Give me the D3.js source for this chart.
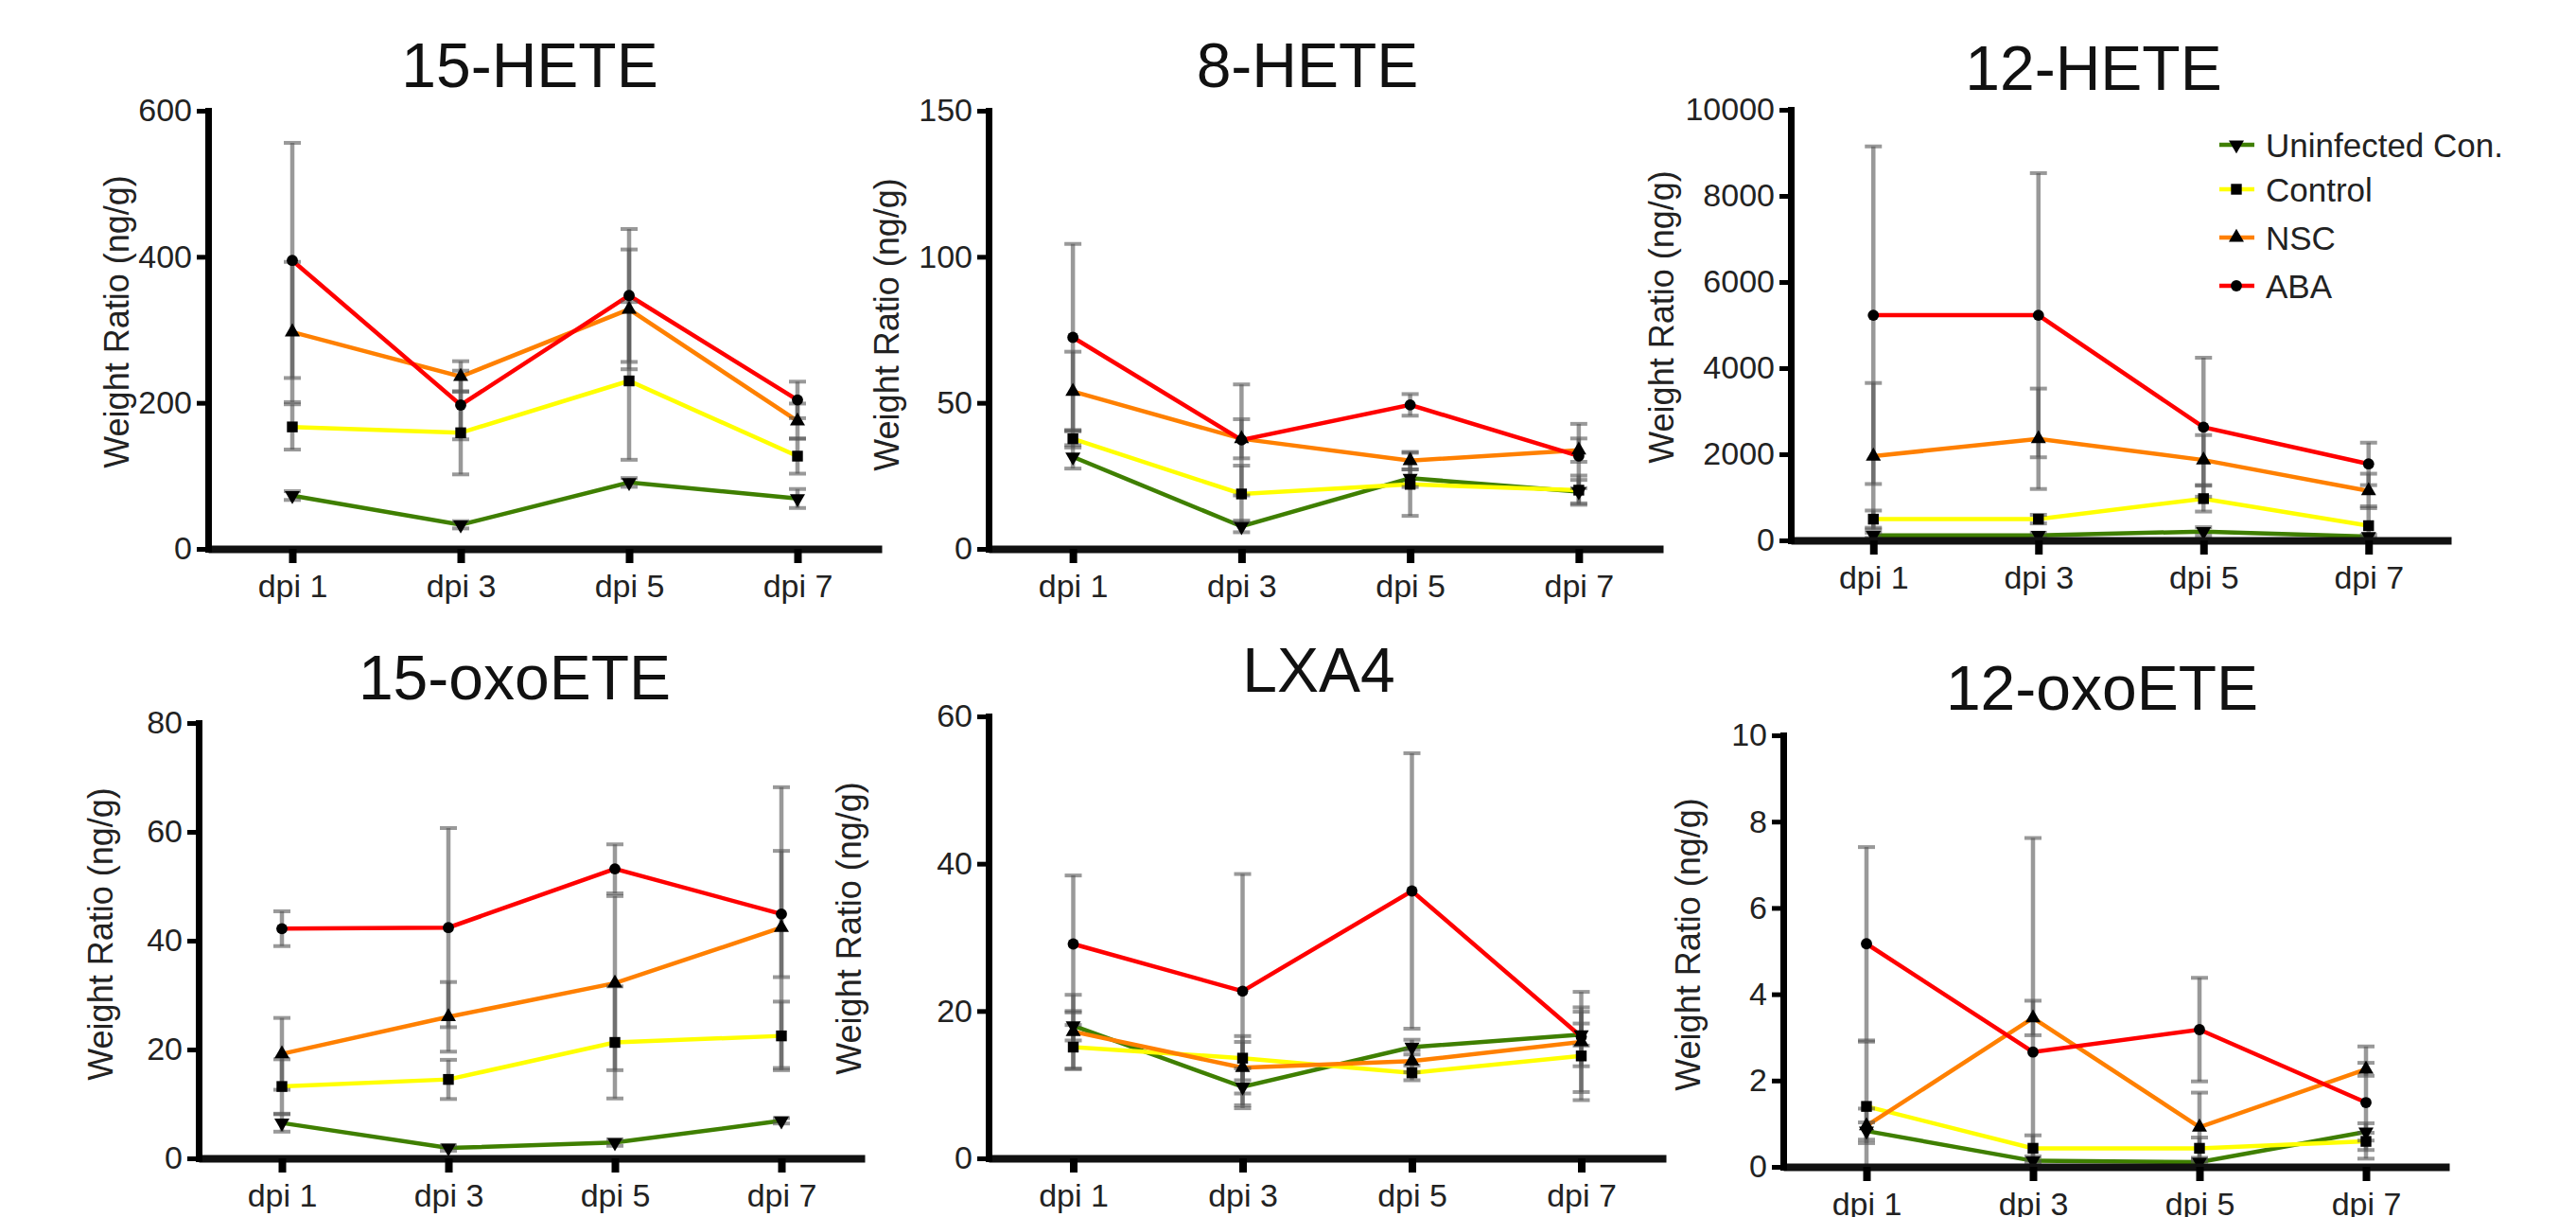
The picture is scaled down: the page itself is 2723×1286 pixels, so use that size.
<!DOCTYPE html>
<html>
<head>
<meta charset="utf-8">
<script src="https://cdn.jsdelivr.net/npm/d3@7"></script>
<style>
  body { margin: 0; background: #fff; }
  svg { display: block; font-family: "Liberation Sans", Arial, sans-serif; }
</style>
</head>
<body>
<svg id="chart"></svg>
<script>
const W = 2723, H = 1286;

const days = ["dpi 1", "dpi 3", "dpi 5", "dpi 7"];
const groups = ["Uninfected Con.", "Control", "NSC", "ABA"];
const groupColors = ["#3f7f00", "#ffff00", "#ff8000", "#ff0000"];

const panelTitles = ["15-HETE", "8-HETE", "12-HETE", "15-oxoETE", "LXA4", "12-oxoETE"];
const yMax = [600, 150, 10000, 80, 60, 10];
const yTicks = [
  [0, 200, 400, 600],
  [0, 50, 100, 150],
  [0, 2000, 4000, 6000, 8000, 10000],
  [0, 20, 40, 60, 80],
  [0, 20, 40, 60],
  [0, 2, 4, 6, 8, 10]
];

// means, one row per group (Uninfected, Control, NSC, ABA)
const hete15 = [[73, 33, 91, 69], [167, 159, 230, 127], [297, 236, 328, 175], [395, 197, 347, 204]];
const hete15Err = [[6, 5, 6, 13], [31, 57, 108, 24], [96, 21, 82, 24], [161, 47, 91, 25]];
const hete8 = [[31.5, 7.7, 24.2, 19.6], [37.7, 18.8, 22.1, 20.1], [53.9, 37.7, 30.2, 33.8], [72.4, 37.3, 49.3, 31.8]];
const hete8Err = [[4, 2, 3, 4], [3, 9.7, 10.8, 5], [13.6, 6.7, 3, 4], [32, 19, 3.7, 11]];
const hete12 = [[117, 117, 206, 90], [493, 493, 969, 341], [1955, 2359, 1865, 1148], [5229, 5229, 2628, 1776]];
const hete12Err = [[60, 60, 100, 40], [200, 100, 300, 450], [1700, 1166, 580, 400], [3920, 3300, 1614, 493]];
const oxo15 = [[6.5, 1.9, 2.9, 6.9], [13.2, 14.5, 21.3, 22.5], [19.2, 26.0, 32.2, 42.4], [42.2, 42.4, 53.2, 44.9]];
const oxo15Err = [[1.6, 0.5, 0.6, 0.5], [5, 3.6, 10.3, 6.3], [6.6, 6.4, 16, 25.8], [3.2, 18.3, 4.5, 11.6]];
const lxa4 = [[18.0, 9.7, 15.1, 16.8], [15.1, 13.6, 11.6, 13.9], [17.2, 12.3, 13.2, 15.8], [29.1, 22.7, 36.3, 16.5]];
const lxa4Err = [[2, 2.5, 1, 1.5], [3, 3, 1, 6], [5, 3.5, 1.5, 6.8], [9.3, 15.9, 18.7, 4]];
const oxo12 = [[0.83, 0.14, 0.11, 0.81], [1.40, 0.43, 0.43, 0.59], [0.95, 3.45, 0.92, 2.26], [5.17, 2.66, 3.18, 1.49]];
const oxo12Err = [[0.2, 0.1, 0.1, 0.2], [1.5, 0.3, 0.25, 0.2], [0.4, 0.4, 0.8, 0.15], [2.24, 4.96, 1.2, 1.3]];

const means = [hete15, hete8, hete12, oxo15, lxa4, oxo12];
const errs = [hete15Err, hete8Err, hete12Err, oxo15Err, lxa4Err, oxo12Err];

// panel geometry (pixels)
const layout = [
  {x0: 220, x1: 932, yt: 117, yb: 580, tx: 560, ty: 92, lx: 123, ly: 340},
  {x0: 1045, x1: 1758, yt: 117, yb: 580, tx: 1382, ty: 92, lx: 937, ly: 343},
  {x0: 1893, x1: 2591, yt: 116, yb: 571, tx: 2213, ty: 95, lx: 1756, ly: 335},
  {x0: 210, x1: 914, yt: 764, yb: 1224, tx: 544, ty: 739, lx: 106, ly: 987},
  {x0: 1045, x1: 1761, yt: 757, yb: 1224, tx: 1394, ty: 731, lx: 897, ly: 981},
  {x0: 1885, x1: 2589, yt: 777, yb: 1233, tx: 2222, ty: 750, lx: 1784, ly: 998}
];

const svg = d3.select("#chart").attr("width", W).attr("height", H);

const downTri = d3.symbol().type(d3.symbolTriangle).size(110);
const markers = [
  {path: downTri(), rot: 180},
  {path: d3.symbol().type(d3.symbolSquare).size(130)(), rot: 0},
  {path: d3.symbol().type(d3.symbolTriangle).size(110)(), rot: 0},
  {path: d3.symbol().type(d3.symbolCircle).size(110)(), rot: 0}
];

panelTitles.forEach((title, i) => {
  const L = layout[i];
  const g = svg.append("g");

  const x = d3.scalePoint().domain(days).range([L.x0, L.x1]).padding(0.5);
  const y = d3.scaleLinear().domain([0, yMax[i]]).range([L.yb, L.yt]);

  // title
  g.append("text")
    .attr("x", L.tx).attr("y", L.ty)
    .attr("text-anchor", "middle")
    .attr("font-size", 66)
    .attr("fill", "#111")
    .text(title);

  // y label
  g.append("text")
    .attr("transform", `translate(${L.lx},${L.ly}) rotate(-90)`)
    .attr("text-anchor", "middle")
    .attr("dominant-baseline", "central")
    .attr("font-size", 36)
    .attr("fill", "#222")
    .text("Weight Ratio (ng/g)");

  // lines
  const line = d3.line().x((d, j) => x(days[j])).y(d => y(d));
  means[i].forEach((vals, s) => {
    g.append("path")
      .attr("d", line(vals))
      .attr("fill", "none")
      .attr("stroke", groupColors[s])
      .attr("stroke-width", 4.5);
  });

  // error bars
  means[i].forEach((vals, s) => {
    vals.forEach((m, j) => {
      const e = errs[i][s][j];
      const cx = x(days[j]);
      const top = y(m + e), bot = y(Math.max(0, m - e));
      const eb = g.append("g").attr("stroke", "#555").attr("stroke-opacity", 0.6);
      eb.append("line").attr("x1", cx).attr("x2", cx).attr("y1", top).attr("y2", bot).attr("stroke-width", 4.5);
      eb.append("line").attr("x1", cx - 9).attr("x2", cx + 9).attr("y1", top).attr("y2", top).attr("stroke-width", 4);
      if (m - e > 0) {
        eb.append("line").attr("x1", cx - 9).attr("x2", cx + 9).attr("y1", bot).attr("y2", bot).attr("stroke-width", 4);
      }
    });
  });

  // markers
  means[i].forEach((vals, s) => {
    vals.forEach((m, j) => {
      g.append("path")
        .attr("d", markers[s].path)
        .attr("transform", `translate(${x(days[j])},${y(m)}) rotate(${markers[s].rot})`)
        .attr("fill", "#000");
    });
  });

  // axes
  const xAxis = g.append("g")
    .attr("transform", `translate(0,${L.yb})`)
    .call(d3.axisBottom(x).tickSizeInner(15).tickSizeOuter(0).tickPadding(12));
  xAxis.select(".domain").attr("stroke", "#111").attr("stroke-width", 8);
  xAxis.selectAll(".tick line").attr("stroke", "#000").attr("stroke-width", 8);
  xAxis.selectAll(".tick text").attr("font-size", 34).attr("fill", "#222")
    .attr("font-family", "Liberation Sans, Arial, sans-serif");

  const yAxis = g.append("g")
    .attr("transform", `translate(${L.x0},0)`)
    .call(d3.axisLeft(y).tickValues(yTicks[i]).tickFormat(d3.format("d"))
      .tickSizeInner(12).tickSizeOuter(0).tickPadding(5));
  yAxis.select(".domain").attr("stroke", "#000").attr("stroke-width", 7)
    .attr("stroke-linecap", "square");
  yAxis.selectAll(".tick line").attr("stroke", "#000").attr("stroke-width", 5);
  yAxis.selectAll(".tick text").attr("font-size", 34).attr("fill", "#222")
    .attr("font-family", "Liberation Sans, Arial, sans-serif");
});

// legend (inside 12-HETE panel)
const legendRows = [153, 200, 251, 302];
const legend = svg.append("g");
groups.forEach((name, s) => {
  const row = legend.append("g").attr("transform", `translate(2346,${legendRows[s]})`);
  row.append("line").attr("x1", 0).attr("x2", 37).attr("y1", 0).attr("y2", 0)
    .attr("stroke", groupColors[s]).attr("stroke-width", 4.5);
  row.append("path").attr("d", markers[s].path)
    .attr("transform", `translate(18,0) rotate(${markers[s].rot})`)
    .attr("fill", "#000");
  row.append("text").attr("x", 49).attr("y", 0)
    .attr("dominant-baseline", "central")
    .attr("font-size", 35).attr("fill", "#222")
    .text(name);
});
</script>
</body>
</html>
